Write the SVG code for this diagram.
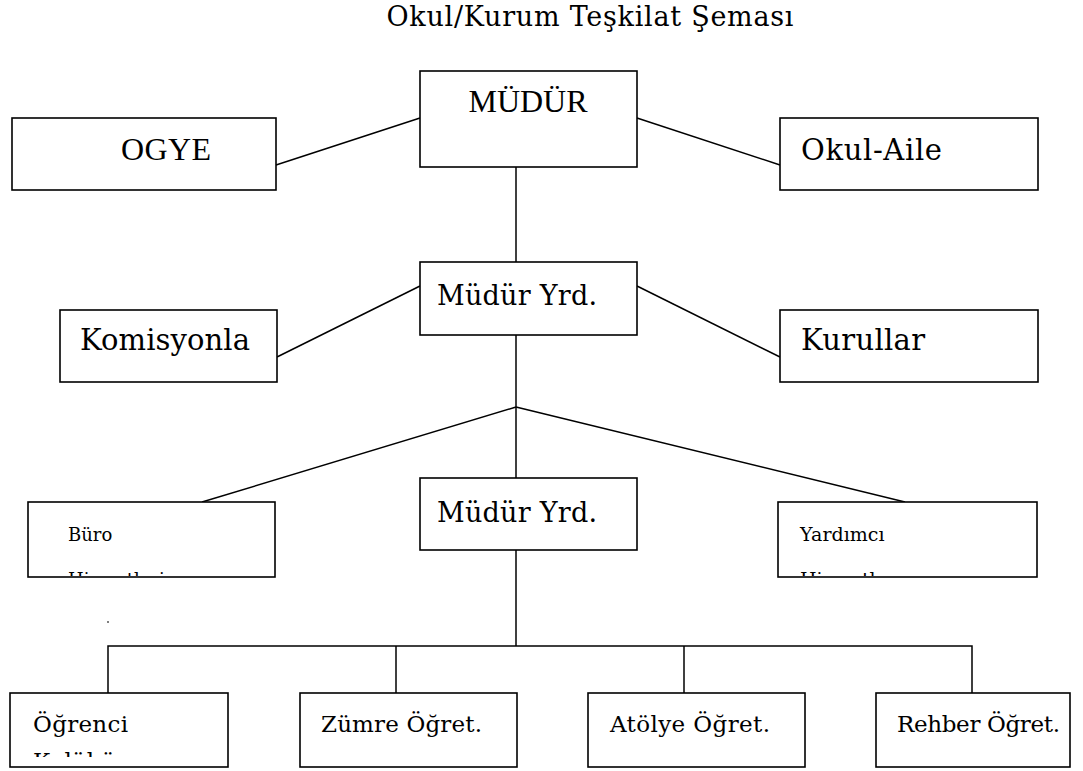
<svg xmlns="http://www.w3.org/2000/svg" width="1083" height="771" viewBox="0 0 1083 771">
<style>
.box{fill:#fff;stroke:#000;stroke-width:1.6}
.ln{stroke:#000;stroke-width:1.5;fill:none}
.p{font-family:"DejaVu Serif","Liberation Serif",serif;fill:#000}
.tm{font-family:"Liberation Serif","Times New Roman",serif;fill:#000}
</style>
<defs>
<clipPath id="cBuro"><rect x="29" y="503" width="245" height="73"/></clipPath>
<clipPath id="cYard"><rect x="779" y="503" width="257" height="73"/></clipPath>
<clipPath id="cOgr"><rect x="11" y="694" width="216" height="63"/></clipPath>
</defs>
<rect width="1083" height="771" fill="#fff"/>
<text class="p" x="590" y="26" font-size="27" text-anchor="middle" textLength="407">Okul/Kurum Teşkilat Şeması</text>
<g id="connectors">
<line class="ln" x1="276" y1="165" x2="420" y2="118"/>
<line class="ln" x1="637" y1="118" x2="780" y2="165"/>
<line class="ln" x1="516" y1="167" x2="516" y2="262"/>
<line class="ln" x1="277" y1="357" x2="420" y2="286"/>
<line class="ln" x1="637" y1="286" x2="780" y2="357"/>
<line class="ln" x1="516" y1="335" x2="516" y2="478"/>
<line class="ln" x1="516" y1="407" x2="202" y2="502"/>
<line class="ln" x1="516" y1="407" x2="905" y2="502"/>
<line class="ln" x1="516" y1="550" x2="516" y2="646"/>
<polyline class="ln" points="108,693 108,646 972,646 972,693"/>
<line class="ln" x1="396" y1="646" x2="396" y2="693"/>
<line class="ln" x1="684" y1="646" x2="684" y2="693"/>
<line x1="108" y1="621" x2="108" y2="623" stroke="#000" stroke-width="1"/>
</g>
<g id="mudur"><rect class="box" x="420" y="71" width="217" height="96"/><text class="tm" x="528" y="112" font-size="32" text-anchor="middle">MÜDÜR</text></g>
<g id="ogye"><rect class="box" x="12" y="118" width="264" height="72"/><text class="tm" x="121" y="160" font-size="32" textLength="90">OGYE</text></g>
<g id="okulaile"><rect class="box" x="780" y="118" width="258" height="72"/><text class="p" x="801" y="160" font-size="29" textLength="141">Okul-Aile</text></g>
<g id="mudur-yrd-1"><rect class="box" x="420" y="262" width="217" height="73"/><text class="p" x="437" y="305" font-size="27" textLength="160">Müdür Yrd.</text></g>
<g id="komisyonla"><rect class="box" x="60" y="310" width="217" height="72"/><text class="p" x="80" y="350" font-size="29" textLength="170">Komisyonla</text></g>
<g id="kurullar"><rect class="box" x="780" y="310" width="258" height="72"/><text class="p" x="801" y="350" font-size="29" textLength="124">Kurullar</text></g>
<g id="mudur-yrd-2"><rect class="box" x="420" y="478" width="217" height="72"/><text class="p" x="437" y="522" font-size="27" textLength="160">Müdür Yrd.</text></g>
<g id="buro"><rect class="box" x="28" y="502" width="247" height="75"/>
<g clip-path="url(#cBuro)"><text class="p" x="68" y="541" font-size="18">Büro</text><text class="p" x="68" y="586" font-size="18">Hizmetleri</text></g></g>
<g id="yardimci"><rect class="box" x="778" y="502" width="259" height="75"/>
<g clip-path="url(#cYard)"><text class="p" x="800" y="541" font-size="19">Yardımcı</text><text class="p" x="800" y="586" font-size="19">Hizmetler</text></g></g>
<g id="ogrenci"><rect class="box" x="10" y="693" width="218" height="74"/>
<g clip-path="url(#cOgr)"><text class="p" x="33" y="732" font-size="23" textLength="95">Öğrenci</text><text class="p" x="33" y="769" font-size="23">Kulübü</text></g></g>
<g id="zumre"><rect class="box" x="300" y="693" width="217" height="74"/><text class="p" x="321" y="732" font-size="23" textLength="161">Zümre Öğret.</text></g>
<g id="atolye"><rect class="box" x="588" y="693" width="217" height="74"/><text class="p" x="610" y="732" font-size="23" textLength="160">Atölye Öğret.</text></g>
<g id="rehber"><rect class="box" x="876" y="693" width="194" height="74"/><text class="p" x="897" y="732" font-size="23" textLength="163">Rehber Öğret.</text></g>
</svg>
